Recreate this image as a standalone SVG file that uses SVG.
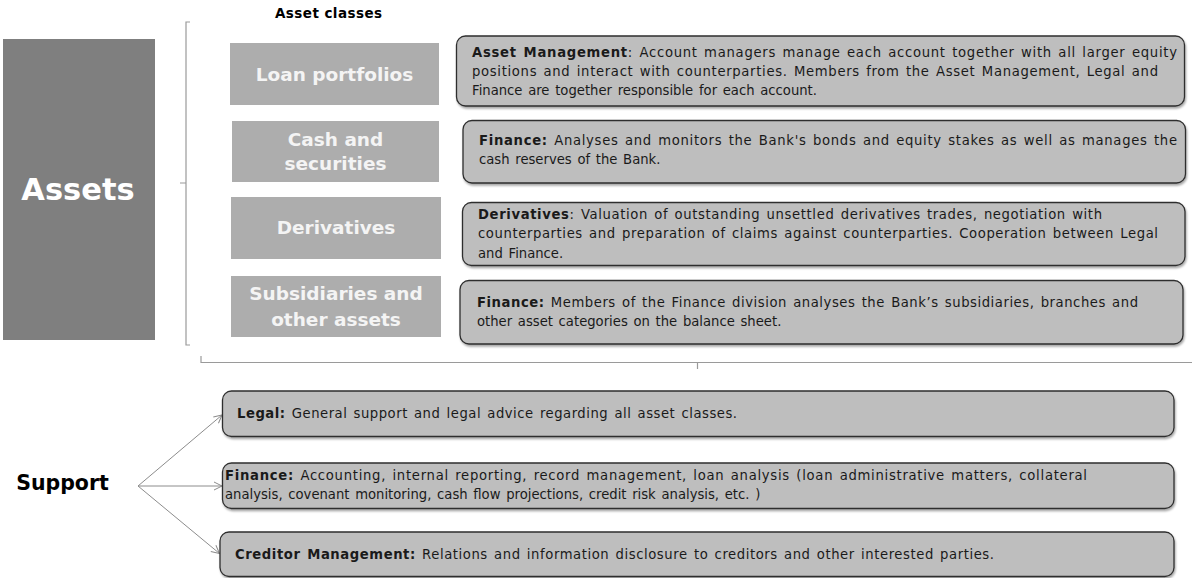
<svg xmlns="http://www.w3.org/2000/svg" width="1192" height="578" viewBox="0 0 1192 578">
<defs>
<style>
.cls{fill:#ADADAD}
.clt{font-family:"DejaVu Sans",Verdana,sans-serif;font-weight:bold;font-size:18.5px;fill:#F4F4F4;text-anchor:middle}
.box{fill:#BEBEBE;stroke:#2E2E2E;stroke-width:1.3;filter:url(#sh)}
.t{font-family:"DejaVu Sans",Verdana,sans-serif;font-size:13.2px;word-spacing:1.5px;fill:#1A1A1A}
.b{font-weight:bold}
.br{fill:none;stroke:#9A9A9A;stroke-width:1.2}
.con{stroke:#8C8C8C;stroke-width:1;fill:none;marker-end:url(#ah)}
</style>
<filter id="sh" x="-5%" y="-20%" width="110%" height="150%"><feDropShadow dx="1" dy="2" stdDeviation="1" flood-color="#000" flood-opacity="0.35"/></filter>
<marker id="ah" markerWidth="10" markerHeight="10" refX="9" refY="5" orient="auto" markerUnits="userSpaceOnUse"><path d="M1,1 L9,5 L1,9" fill="none" stroke="#8C8C8C" stroke-width="1"/></marker>
</defs>
<rect width="1192" height="578" fill="#FFFFFF"/>

<g id="assets">
<rect x="3" y="39" width="152" height="301" fill="#7F7F7F"/>
<text x="78" y="200" font-family="DejaVu Sans, Verdana, sans-serif" font-weight="bold" font-size="30.5" fill="#FFFFFF" text-anchor="middle">Assets</text>
</g>

<g id="asset-classes-title">
<text x="328.5" y="17.5" font-family="DejaVu Sans, Verdana, sans-serif" font-weight="bold" font-size="13.5" fill="#000000" text-anchor="middle" textLength="107" lengthAdjust="spacing">Asset classes</text>
</g>

<g id="brackets">
<path class="br" d="M190,22 L186,22 L186,345 L190,345 M186,183 L180,183"/>
<path class="br" d="M201,356 L201,362.5 L1192,362.5 M697.5,362.5 L697.5,369"/>
</g>

<g id="class-loan">
<rect class="cls" x="230" y="43" width="209" height="62"/>
<text class="clt" x="334.5" y="80.5">Loan portfolios</text>
</g>
<g id="class-cash">
<rect class="cls" x="232" y="121" width="207" height="61"/>
<text class="clt" x="335.5" y="145.5">Cash and</text>
<text class="clt" x="335.5" y="170">securities</text>
</g>
<g id="class-derivatives">
<rect class="cls" x="231" y="197" width="210" height="62"/>
<text class="clt" x="336" y="233.5">Derivatives</text>
</g>
<g id="class-subsidiaries">
<rect class="cls" x="231" y="276" width="210" height="61"/>
<text class="clt" x="336" y="300">Subsidiaries and</text>
<text class="clt" x="336" y="326">other assets</text>
</g>

<g id="desc-asset-management">
<rect class="box" x="456.5" y="36" width="728" height="70" rx="9"/>
<text class="t" x="472" y="56.5" textLength="705" lengthAdjust="spacing"><tspan class="b">Asset Management</tspan>: Account managers manage each account together with all larger equity</text>
<text class="t" x="472" y="75.5" textLength="686" lengthAdjust="spacing">positions and interact with counterparties.  Members from the Asset Management, Legal and</text>
<text class="t" x="472" y="94.5">Finance are together responsible for each account.</text>
</g>

<g id="desc-cash">
<rect class="box" x="463" y="120.5" width="722.5" height="62.5" rx="9"/>
<text class="t" x="479" y="145" textLength="698" lengthAdjust="spacing"><tspan class="b">Finance:</tspan> Analyses and monitors the Bank's bonds and equity stakes as well as manages the</text>
<text class="t" x="479" y="164">cash reserves of the Bank.</text>
</g>

<g id="desc-derivatives">
<rect class="box" x="462.5" y="202.5" width="722.5" height="63" rx="9"/>
<text class="t" x="478" y="218.5" textLength="624" lengthAdjust="spacing"><tspan class="b">Derivatives</tspan>: Valuation of outstanding unsettled derivatives trades, negotiation with</text>
<text class="t" x="478" y="238" textLength="680" lengthAdjust="spacing">counterparties and preparation of claims against counterparties. Cooperation between Legal</text>
<text class="t" x="478" y="257.5">and Finance.</text>
</g>

<g id="desc-subsidiaries">
<rect class="box" x="460" y="280.5" width="723" height="63.5" rx="9"/>
<text class="t" x="477" y="306.5" textLength="661" lengthAdjust="spacing"><tspan class="b">Finance:</tspan> Members of the Finance division analyses the Bank’s subsidiaries, branches and</text>
<text class="t" x="477" y="325.5">other asset categories on the balance sheet.</text>
</g>

<g id="support">
<text x="62.5" y="490" font-family="DejaVu Sans, Verdana, sans-serif" font-weight="bold" font-size="20.5" fill="#000000" text-anchor="middle">Support</text>
</g>

<g id="connectors">
<line class="con" x1="138" y1="486" x2="222" y2="415"/>
<line class="con" x1="138" y1="486" x2="222" y2="486"/>
<line class="con" x1="138" y1="486" x2="219.5" y2="553.5"/>
</g>

<g id="support-legal">
<rect class="box" x="222.5" y="391" width="951.5" height="45.5" rx="9"/>
<text class="t" x="237" y="417.5" textLength="500" lengthAdjust="spacing"><tspan class="b">Legal:</tspan> General support and legal advice regarding all asset classes.</text>
</g>

<g id="support-finance">
<rect class="box" x="222.5" y="463" width="951.5" height="45.5" rx="9"/>
<text class="t" x="225" y="480" textLength="862" lengthAdjust="spacing"><tspan class="b">Finance:</tspan> Accounting,  internal reporting, record management, loan analysis (loan administrative  matters, collateral</text>
<text class="t" x="225" y="499">analysis, covenant monitoring,  cash flow projections, credit risk analysis, etc. )</text>
</g>

<g id="support-creditor">
<rect class="box" x="220" y="532" width="954" height="44.5" rx="9"/>
<text class="t" x="235" y="558.5" textLength="759" lengthAdjust="spacing"><tspan class="b">Creditor Management:</tspan> Relations and information disclosure to creditors and other interested parties.</text>
</g>
</svg>
